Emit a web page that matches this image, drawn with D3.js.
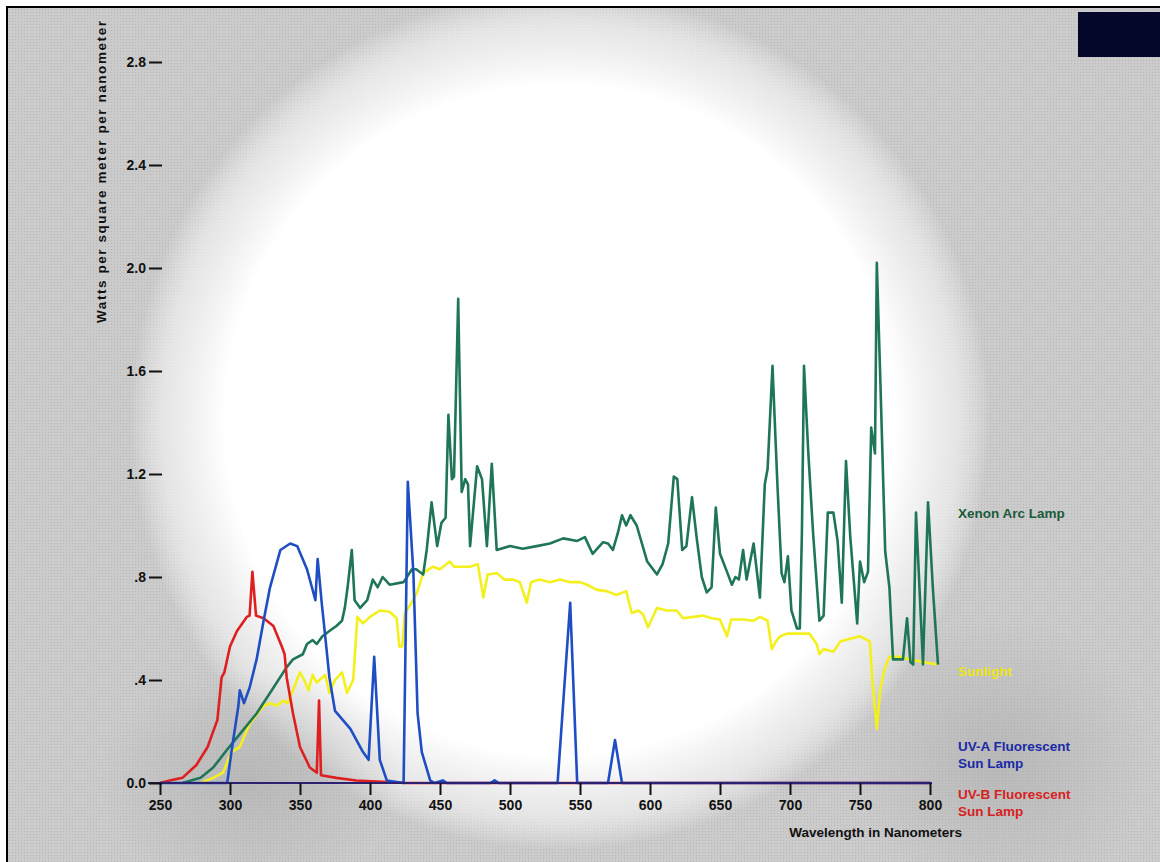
<!DOCTYPE html>
<html>
<head>
<meta charset="utf-8">
<script src="https://cdn.jsdelivr.net/npm/d3@7"></script>
<style>
  html, body { margin: 0; padding: 0; background: #fff; }
  svg { display: block; }
  text { font-family: "Liberation Sans", Arial, sans-serif; font-weight: bold; }
</style>
</head>
<body>
<svg id="chart" width="1160" height="862"></svg>
<script>
// spectra: wavelength (nm) and W / m2 / nm
const xenonNm = [266, 279, 288, 298, 307, 319, 331, 340.5, 345, 352, 355, 359, 362, 366, 371, 376, 380, 382, 384, 387, 389, 393, 398, 402, 405.5, 409, 414, 424, 430, 433, 438, 440.5, 444, 448, 451, 454, 456, 458.5, 460, 463, 465.5, 468, 470, 471.5, 476.5, 480, 483.5, 487, 490.5, 500, 509, 519, 528.5, 538, 548, 553.5, 559, 566.5, 570, 573.5, 577, 580, 583, 586, 590.5, 598, 605, 609, 613, 617, 619.5, 623, 626, 630, 633.5, 637, 640.5, 644, 647, 650, 655, 658.5, 661, 663.5, 666.5, 669, 674, 678.5, 682, 684, 687.5, 689, 691, 694, 696, 698.5, 701, 705, 707, 708.5, 710, 713, 716.5, 721, 724, 727, 731, 734, 737, 740, 743, 748, 750, 753, 755.7, 758, 760.7, 762, 764.6, 768, 771, 773.6, 780.7, 783.6, 786, 788, 790, 795, 798.6, 802, 805.7];
const xenonW = [0, 0.02, 0.06, 0.13, 0.19, 0.27, 0.37, 0.45, 0.48, 0.50, 0.54, 0.555, 0.54, 0.57, 0.59, 0.61, 0.63, 0.68, 0.76, 0.905, 0.71, 0.68, 0.71, 0.79, 0.76, 0.80, 0.77, 0.78, 0.83, 0.83, 0.81, 0.905, 1.09, 0.92, 1.01, 1.03, 1.43, 1.18, 1.19, 1.88, 1.13, 1.18, 1.16, 0.92, 1.23, 1.18, 0.92, 1.24, 0.905, 0.92, 0.91, 0.92, 0.93, 0.95, 0.94, 0.955, 0.89, 0.935, 0.93, 0.905, 0.97, 1.04, 1.0, 1.04, 1.0, 0.86, 0.81, 0.85, 0.93, 1.19, 1.18, 0.905, 0.92, 1.11, 0.945, 0.80, 0.74, 0.76, 1.07, 0.89, 0.82, 0.77, 0.80, 0.79, 0.905, 0.79, 0.93, 0.72, 1.16, 1.22, 1.62, 1.42, 1.16, 0.815, 0.78, 0.88, 0.67, 0.60, 0.60, 0.97, 1.62, 1.29, 0.97, 0.63, 0.65, 1.05, 1.05, 0.94, 0.70, 1.25, 0.96, 0.62, 0.86, 0.78, 0.82, 1.38, 1.28, 2.02, 1.55, 0.90, 0.76, 0.48, 0.48, 0.64, 0.47, 0.46, 1.05, 0.46, 1.09, 0.76, 0.46];

const sunNm = [279, 288, 295, 301, 307, 314, 319, 324, 329, 333.6, 338, 341, 345, 350, 353, 356, 359, 362, 368, 371, 375, 380, 383.6, 388, 391, 395, 400, 407, 414, 419, 421, 423, 425, 428.6, 433.6, 438, 445, 450, 457, 460, 464, 471.4, 477, 481, 484, 490.7, 496, 502, 507, 512, 515, 521, 528.6, 535.7, 543, 550, 555, 562, 569, 576, 583, 587, 591.7, 595, 598.6, 605, 612, 619, 623.6, 631, 638, 644, 650, 655, 658, 666.6, 673.6, 678.6, 684, 687, 690, 693, 698, 705, 714, 719, 721, 724, 731, 736, 743, 750, 757, 759, 762, 764.6, 768, 771, 778.6, 786, 795, 805.7];
const sunW = [0, 0.02, 0.04, 0.12, 0.14, 0.23, 0.265, 0.30, 0.31, 0.30, 0.32, 0.31, 0.36, 0.43, 0.40, 0.36, 0.42, 0.39, 0.42, 0.35, 0.40, 0.43, 0.35, 0.40, 0.645, 0.62, 0.645, 0.67, 0.665, 0.64, 0.53, 0.53, 0.66, 0.69, 0.74, 0.815, 0.84, 0.83, 0.86, 0.84, 0.84, 0.84, 0.85, 0.72, 0.81, 0.815, 0.79, 0.79, 0.78, 0.70, 0.78, 0.79, 0.78, 0.79, 0.78, 0.78, 0.77, 0.75, 0.745, 0.73, 0.745, 0.66, 0.67, 0.655, 0.605, 0.68, 0.67, 0.67, 0.64, 0.645, 0.65, 0.64, 0.635, 0.57, 0.635, 0.635, 0.63, 0.645, 0.63, 0.52, 0.55, 0.57, 0.58, 0.58, 0.58, 0.54, 0.50, 0.52, 0.51, 0.55, 0.56, 0.57, 0.55, 0.39, 0.21, 0.37, 0.45, 0.49, 0.49, 0.48, 0.47, 0.46];

const uvaNm = [250, 298, 301, 306, 307, 310, 314, 319, 324, 328.6, 336, 343, 348, 355, 361, 362.6, 365.5, 368, 371, 375, 386, 395, 399, 403, 407, 412, 424, 427, 431, 434, 437, 443, 446, 452, 455, 486, 489, 492, 534, 543, 548, 570, 575, 580, 800];
const uvaW = [0, 0, 0.12, 0.30, 0.36, 0.31, 0.37, 0.48, 0.63, 0.76, 0.905, 0.93, 0.92, 0.83, 0.71, 0.87, 0.70, 0.57, 0.41, 0.28, 0.21, 0.12, 0.09, 0.49, 0.09, 0.01, 0, 1.17, 0.815, 0.27, 0.12, 0.01, 0, 0.01, 0, 0, 0.01, 0, 0, 0.70, 0, 0, 0.167, 0, 0];

const uvbNm = [250, 257, 266, 276, 284, 291, 294, 296, 300, 305, 312, 314, 316, 318.6, 324, 331, 337, 339, 340.5, 345, 350, 357, 362, 363.6, 365, 376, 390, 409, 425, 800];
const uvbW = [0, 0.01, 0.02, 0.07, 0.14, 0.245, 0.41, 0.43, 0.53, 0.59, 0.645, 0.65, 0.82, 0.65, 0.64, 0.61, 0.53, 0.50, 0.41, 0.27, 0.14, 0.06, 0.04, 0.32, 0.03, 0.02, 0.01, 0.005, 0, 0];

const xTicks = [250, 300, 350, 400, 450, 500, 550, 600, 650, 700, 750, 800];
const yTicks = [0, 0.4, 0.8, 1.2, 1.6, 2.0, 2.4, 2.8];

const series = [
  { name: 'Sunlight', nm: sunNm, w: sunW, color: '#f4f01e' },
  { name: 'Xenon', nm: xenonNm, w: xenonW, color: '#1f7656' },
  { name: 'UV-B', nm: uvbNm, w: uvbW, color: '#de1f1f' },
  { name: 'UV-A', nm: uvaNm, w: uvaW, color: '#1f4dc4' }
];

const labels = [
  { lines: ['Xenon Arc Lamp'], y: 514, color: '#1b5a3b' },
  { lines: ['Sunlight'], y: 672, color: '#ece61a' },
  { lines: ['UV-A Fluorescent', 'Sun Lamp'], y: 747, color: '#1b2aa6' },
  { lines: ['UV-B Fluorescent', 'Sun Lamp'], y: 795, color: '#d62222' }
];

const svg = d3.select('#chart');
const defs = svg.append('defs');

// background: grey dotted paper with a soft white glow in the middle
const pat = defs.append('pattern')
  .attr('id', 'dots')
  .attr('width', 3).attr('height', 3)
  .attr('patternUnits', 'userSpaceOnUse');
pat.append('rect').attr('width', 3).attr('height', 3).attr('fill', '#cbcbcb');
pat.append('rect').attr('width', 1).attr('height', 1).attr('fill', '#b8b8b8');

const glow = defs.append('radialGradient')
  .attr('id', 'glow')
  .attr('gradientUnits', 'userSpaceOnUse')
  .attr('cx', 560).attr('cy', 420).attr('r', 430);
glow.append('stop').attr('offset', '0%').attr('stop-color', '#fff').attr('stop-opacity', 1);
glow.append('stop').attr('offset', '78%').attr('stop-color', '#fff').attr('stop-opacity', 1);
glow.append('stop').attr('offset', '92%').attr('stop-color', '#f2f2f2').attr('stop-opacity', 0.7);
glow.append('stop').attr('offset', '100%').attr('stop-color', '#fff').attr('stop-opacity', 0);

const shade = defs.append('radialGradient').attr('id', 'shade');
shade.append('stop').attr('offset', '0%').attr('stop-color', '#a9a9a9').attr('stop-opacity', 0.55);
shade.append('stop').attr('offset', '100%').attr('stop-color', '#a9a9a9').attr('stop-opacity', 0);

svg.append('rect').attr('x', 8).attr('y', 8).attr('width', 1152).attr('height', 854).attr('fill', 'url(#dots)');
svg.append('rect').attr('x', 8).attr('y', 8).attr('width', 1152).attr('height', 854).attr('fill', 'url(#glow)');
svg.append('ellipse').attr('cx', 250).attr('cy', 780).attr('rx', 150).attr('ry', 110).attr('fill', 'url(#shade)');
svg.append('ellipse').attr('cx', 1000).attr('cy', 760).attr('rx', 150).attr('ry', 140).attr('fill', 'url(#shade)');

// frame and the dark block in the corner
svg.append('rect').attr('x', 7).attr('y', 7).attr('width', 1160).attr('height', 862)
  .attr('fill', 'none').attr('stroke', '#000').attr('stroke-width', 2);
svg.append('rect').attr('x', 1078).attr('y', 12).attr('width', 82).attr('height', 45).attr('fill', '#04062a');

const x = d3.scaleLinear().domain([250, 800]).range([160, 930]);
const y = d3.scaleLinear().domain([0, 2.8]).range([783, 62]);

const line = d3.line()
  .x(d => x(d[0]))
  .y(d => y(d[1]));

svg.append('g').attr('class', 'lines')
  .selectAll('path')
  .data(series)
  .join('path')
  .attr('d', s => line(s.nm.map((n, i) => [n, s.w[i]])))
  .attr('fill', 'none')
  .attr('stroke', s => s.color)
  .attr('stroke-width', 2.6)
  .attr('stroke-linejoin', 'round');

// x axis
svg.append('line')
  .attr('x1', x(250) - 12).attr('x2', x(800) + 2)
  .attr('y1', y(0)).attr('y2', y(0))
  .attr('stroke', '#2a2270').attr('stroke-width', 2.2);

const xAxis = svg.append('g')
  .attr('transform', `translate(0,${y(0)})`)
  .call(d3.axisBottom(x).tickValues(xTicks).tickSize(12).tickPadding(5).tickFormat(d3.format('d')));
xAxis.select('.domain').remove();
xAxis.selectAll('line').attr('stroke', '#111').attr('stroke-width', 2);
xAxis.selectAll('text').attr('font-size', 14).attr('fill', '#111');

// y axis: labels with a short dash, no spine
const fmtY = v => v === 0 ? '0.0' : v < 1 ? '.' + Math.round(v * 10) : v.toFixed(1);
const yAxis = svg.append('g')
  .attr('transform', 'translate(162,0)')
  .call(d3.axisLeft(y).tickValues(yTicks).tickSize(13).tickPadding(3).tickFormat(fmtY));
yAxis.select('.domain').remove();
yAxis.selectAll('line').attr('stroke', '#111').attr('stroke-width', 2);
yAxis.selectAll('text').attr('font-size', 14).attr('fill', '#111');

svg.append('text')
  .attr('transform', 'translate(106,172) rotate(-90)')
  .attr('text-anchor', 'middle')
  .attr('font-size', 13.5)
  .attr('fill', '#111')
  .attr('textLength', 302)
  .attr('lengthAdjust', 'spacing')
  .text('Watts per square meter per nanometer');

svg.append('text')
  .attr('x', 962).attr('y', 837)
  .attr('text-anchor', 'end')
  .attr('font-size', 13.5)
  .attr('fill', '#111')
  .text('Wavelength in Nanometers');

// series names on the right
const lab = svg.append('g').selectAll('text')
  .data(labels)
  .join('text')
  .attr('x', 958)
  .attr('y', d => d.y)
  .attr('dominant-baseline', 'middle')
  .attr('font-size', 13.5)
  .attr('fill', d => d.color);
lab.selectAll('tspan')
  .data(d => d.lines)
  .join('tspan')
  .attr('x', 958)
  .attr('dy', (d, i) => i === 0 ? 0 : 17)
  .text(d => d);
</script>
</body>
</html>
